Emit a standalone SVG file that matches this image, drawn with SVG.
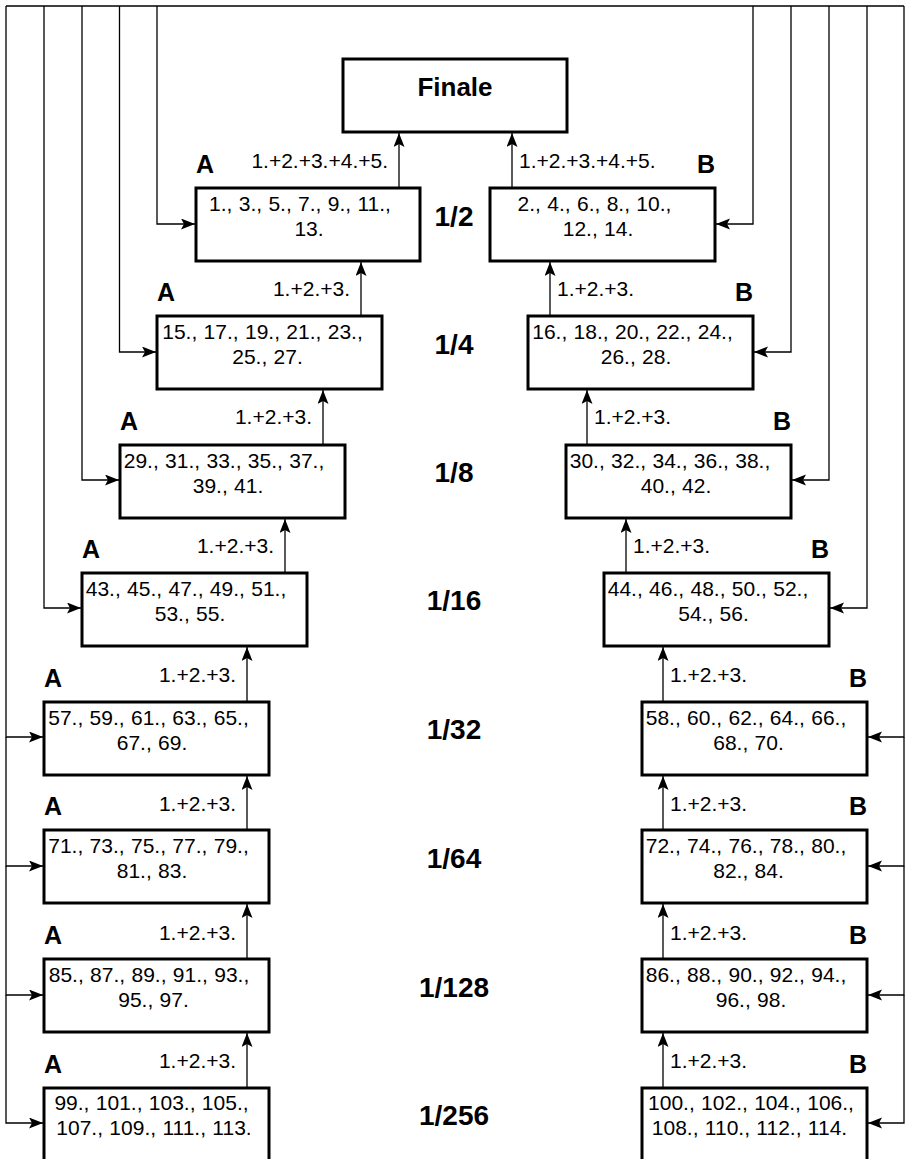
<svg xmlns="http://www.w3.org/2000/svg" width="908" height="1159" viewBox="0 0 908 1159">
<style>
.box{fill:#fff;stroke:#000;stroke-width:3}
.c{fill:none;stroke:#000;stroke-width:1.3}
.t{font-family:"Liberation Sans",Arial,sans-serif;font-size:21px;fill:#000;word-spacing:0.5px;text-anchor:middle}
.l{font-family:"Liberation Sans",Arial,sans-serif;font-size:21px;fill:#000}
.e{text-anchor:end}
.ab{font-family:"Liberation Sans",Arial,sans-serif;font-size:25px;font-weight:bold;fill:#000}
.r{font-family:"Liberation Sans",Arial,sans-serif;font-size:28px;font-weight:bold;fill:#000;text-anchor:middle}
</style>
<defs>
<marker id="ar" markerUnits="userSpaceOnUse" markerWidth="15" markerHeight="12" refX="14" refY="5.5" orient="auto">
<path d="M0,0 L14,5.5 L0,11 L3,5.5 z" fill="#000"/>
</marker>
</defs>

<g id="connectors">
<path class="c" d="M6,6 H904"/>
<path class="c" d="M157,6 V224 H195" marker-end="url(#ar)"/>
<path class="c" d="M119.5,6 V352 H156" marker-end="url(#ar)"/>
<path class="c" d="M82,6 V480 H119" marker-end="url(#ar)"/>
<path class="c" d="M44,6 V608 H81" marker-end="url(#ar)"/>
<path class="c" d="M6,6 V737 H43" marker-end="url(#ar)"/>
<path class="c" d="M6,737 V866 H43" marker-end="url(#ar)"/>
<path class="c" d="M6,866 V995 H43" marker-end="url(#ar)"/>
<path class="c" d="M6,995 V1123 H43" marker-end="url(#ar)"/>
<path class="c" d="M753,6 V224 H716" marker-end="url(#ar)"/>
<path class="c" d="M791,6 V352 H754" marker-end="url(#ar)"/>
<path class="c" d="M829,6 V480 H792" marker-end="url(#ar)"/>
<path class="c" d="M867,6 V608 H830" marker-end="url(#ar)"/>
<path class="c" d="M904,6 V737 H868" marker-end="url(#ar)"/>
<path class="c" d="M904,737 V866 H868" marker-end="url(#ar)"/>
<path class="c" d="M904,866 V995 H868" marker-end="url(#ar)"/>
<path class="c" d="M904,995 V1123 H868" marker-end="url(#ar)"/>
<path class="c" d="M399,188 V133" marker-end="url(#ar)"/>
<path class="c" d="M361,316 V262" marker-end="url(#ar)"/>
<path class="c" d="M323,445 V390" marker-end="url(#ar)"/>
<path class="c" d="M285,573 V519" marker-end="url(#ar)"/>
<path class="c" d="M247,702 V647" marker-end="url(#ar)"/>
<path class="c" d="M247,830 V776" marker-end="url(#ar)"/>
<path class="c" d="M247,959 V904" marker-end="url(#ar)"/>
<path class="c" d="M247,1088 V1033" marker-end="url(#ar)"/>
<path class="c" d="M512,188 V133" marker-end="url(#ar)"/>
<path class="c" d="M550,316 V262" marker-end="url(#ar)"/>
<path class="c" d="M587,445 V390" marker-end="url(#ar)"/>
<path class="c" d="M626,573 V519" marker-end="url(#ar)"/>
<path class="c" d="M663,702 V647" marker-end="url(#ar)"/>
<path class="c" d="M663,830 V776" marker-end="url(#ar)"/>
<path class="c" d="M663,959 V904" marker-end="url(#ar)"/>
<path class="c" d="M663,1088 V1033" marker-end="url(#ar)"/>
<text class="l e" x="388" y="168">1.+2.+3.+4.+5.</text>
<text class="l e" x="350" y="296">1.+2.+3.</text>
<text class="l e" x="312" y="424">1.+2.+3.</text>
<text class="l e" x="274" y="553">1.+2.+3.</text>
<text class="l e" x="236" y="682">1.+2.+3.</text>
<text class="l e" x="236" y="811">1.+2.+3.</text>
<text class="l e" x="236" y="940">1.+2.+3.</text>
<text class="l e" x="236" y="1068">1.+2.+3.</text>
<text class="l" x="519" y="168">1.+2.+3.+4.+5.</text>
<text class="l" x="557" y="296">1.+2.+3.</text>
<text class="l" x="594" y="424">1.+2.+3.</text>
<text class="l" x="633" y="553">1.+2.+3.</text>
<text class="l" x="670" y="682">1.+2.+3.</text>
<text class="l" x="670" y="811">1.+2.+3.</text>
<text class="l" x="670" y="940">1.+2.+3.</text>
<text class="l" x="670" y="1068">1.+2.+3.</text>
</g>

<g id="finale">
<rect class="box" x="343" y="59" width="224" height="73"/>
<text class="r" x="455" y="96" style="font-size:26px">Finale</text>
</g>

<g id="rounds">
<text class="r" x="454" y="226">1/2</text>
<text class="r" x="454" y="354">1/4</text>
<text class="r" x="454" y="482">1/8</text>
<text class="r" x="454" y="610">1/16</text>
<text class="r" x="454" y="739">1/32</text>
<text class="r" x="454" y="868">1/64</text>
<text class="r" x="454" y="997">1/128</text>
<text class="r" x="454" y="1125">1/256</text>
</g>

<g id="a-2">
<rect class="box" x="196" y="188" width="224" height="73"/>
<text class="t"><tspan x="300" y="211">1., 3., 5., 7., 9., 11.,</tspan><tspan x="309" y="236">13.</tspan></text>
<text class="ab" x="196" y="173">A</text>
</g>
<g id="b-2">
<rect class="box" x="490" y="188" width="225" height="73"/>
<text class="t"><tspan x="594.5" y="211">2., 4., 6., 8., 10.,</tspan><tspan x="598" y="236">12., 14.</tspan></text>
<text class="ab e" x="715" y="173">B</text>
</g>
<g id="a-4">
<rect class="box" x="157" y="316" width="225" height="73"/>
<text class="t"><tspan x="262.5" y="339">15., 17., 19., 21., 23.,</tspan><tspan x="267.5" y="364">25., 27.</tspan></text>
<text class="ab" x="157" y="301">A</text>
</g>
<g id="b-4">
<rect class="box" x="528" y="316" width="225" height="73"/>
<text class="t"><tspan x="632.5" y="339">16., 18., 20., 22., 24.,</tspan><tspan x="636" y="364">26., 28.</tspan></text>
<text class="ab e" x="753" y="301">B</text>
</g>
<g id="a-8">
<rect class="box" x="120" y="445" width="225" height="73"/>
<text class="t"><tspan x="224" y="468">29., 31., 33., 35., 37.,</tspan><tspan x="228" y="493">39., 41.</tspan></text>
<text class="ab" x="120" y="430">A</text>
</g>
<g id="b-8">
<rect class="box" x="566" y="445" width="225" height="73"/>
<text class="t"><tspan x="670" y="468">30., 32., 34., 36., 38.,</tspan><tspan x="676" y="493">40., 42.</tspan></text>
<text class="ab e" x="791" y="430">B</text>
</g>
<g id="a-16">
<rect class="box" x="82" y="573" width="225" height="73"/>
<text class="t"><tspan x="186" y="596">43., 45., 47., 49., 51.,</tspan><tspan x="190" y="621">53., 55.</tspan></text>
<text class="ab" x="82" y="558">A</text>
</g>
<g id="b-16">
<rect class="box" x="604" y="573" width="225" height="73"/>
<text class="t"><tspan x="708" y="596">44., 46., 48., 50., 52.,</tspan><tspan x="713.5" y="621">54., 56.</tspan></text>
<text class="ab e" x="829" y="558">B</text>
</g>
<g id="a-32">
<rect class="box" x="44" y="702" width="225" height="73"/>
<text class="t"><tspan x="148.5" y="725">57., 59., 61., 63., 65.,</tspan><tspan x="152" y="750">67., 69.</tspan></text>
<text class="ab" x="44" y="687">A</text>
</g>
<g id="b-32">
<rect class="box" x="642" y="702" width="225" height="73"/>
<text class="t"><tspan x="746" y="725">58., 60., 62., 64., 66.,</tspan><tspan x="748.5" y="750">68., 70.</tspan></text>
<text class="ab e" x="867" y="687">B</text>
</g>
<g id="a-64">
<rect class="box" x="44" y="830" width="225" height="73"/>
<text class="t"><tspan x="148.5" y="853">71., 73., 75., 77., 79.,</tspan><tspan x="152" y="878">81., 83.</tspan></text>
<text class="ab" x="44" y="815">A</text>
</g>
<g id="b-64">
<rect class="box" x="642" y="830" width="225" height="73"/>
<text class="t"><tspan x="746" y="853">72., 74., 76., 78., 80.,</tspan><tspan x="748.5" y="878">82., 84.</tspan></text>
<text class="ab e" x="867" y="815">B</text>
</g>
<g id="a-128">
<rect class="box" x="44" y="959" width="225" height="73"/>
<text class="t"><tspan x="149" y="982">85., 87., 89., 91., 93.,</tspan><tspan x="153.5" y="1007">95., 97.</tspan></text>
<text class="ab" x="44" y="944">A</text>
</g>
<g id="b-128">
<rect class="box" x="642" y="959" width="225" height="73"/>
<text class="t"><tspan x="746" y="982">86., 88., 90., 92., 94.,</tspan><tspan x="751" y="1007">96., 98.</tspan></text>
<text class="ab e" x="867" y="944">B</text>
</g>
<g id="a-256">
<rect class="box" x="44" y="1088" width="225" height="73"/>
<text class="t"><tspan x="151.5" y="1110">99., 101., 103., 105.,</tspan><tspan x="154" y="1135">107., 109., 111., 113.</tspan></text>
<text class="ab" x="44" y="1073">A</text>
</g>
<g id="b-256">
<rect class="box" x="642" y="1088" width="225" height="73"/>
<text class="t"><tspan x="751" y="1110">100., 102., 104., 106.,</tspan><tspan x="749.5" y="1135">108., 110., 112., 114.</tspan></text>
<text class="ab e" x="867" y="1073">B</text>
</g>
</svg>
